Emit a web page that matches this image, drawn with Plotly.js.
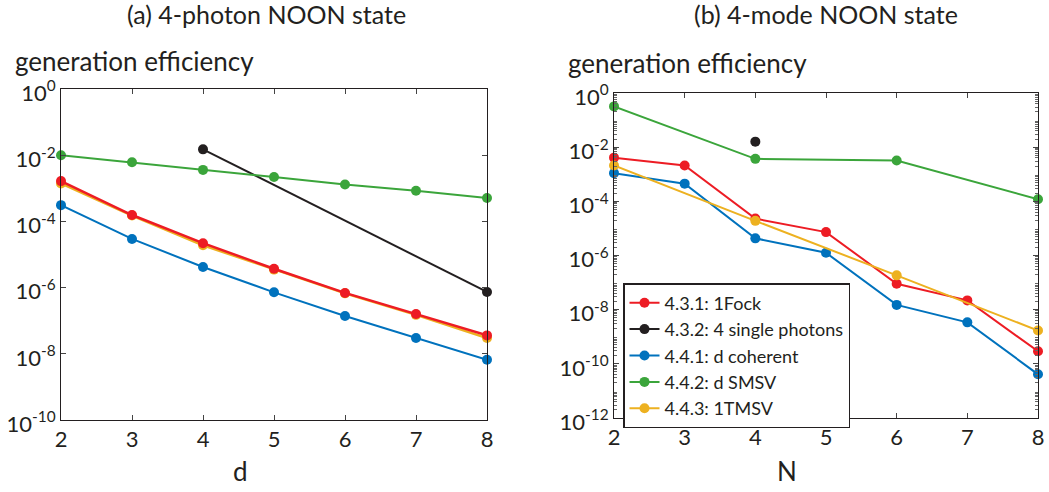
<!DOCTYPE html>
<html><head><meta charset="utf-8">
<script src="https://cdn.plot.ly/plotly-3.0.1.min.js"></script>
<style>html,body{margin:0;padding:0;background:#fff}#c{width:1049px;height:492px}</style>
</head><body><div id="c"></div>
<script>
// Panel (a): 4-photon NOON state, x = d
const dA = [2, 3, 4, 5, 6, 7, 8];
const aFock = [1.65e-3, 1.56e-4, 2.2e-5, 3.7e-6, 6.9e-7, 1.6e-7, 3.6e-8];
const aSingleX = [4, 8];
const aSingle = [1.5e-2, 7.4e-7];
const aCoherent = [3.1e-4, 2.95e-5, 4.2e-6, 7.2e-7, 1.38e-7, 3.0e-8, 6.6e-9];
const aSMSV = [1.0e-2, 6.1e-3, 3.6e-3, 2.2e-3, 1.3e-3, 8.4e-4, 5.1e-4];
const aTMSV = [1.4e-3, 1.5e-4, 1.9e-5, 3.5e-6, 6.7e-7, 1.5e-7, 3.0e-8];

// Panel (b): 4-mode NOON state, x = N
const nB = [2, 3, 4, 5, 6, 7, 8];
const bFock = [4.1e-3, 2.1e-3, 2.3e-5, 7.3e-6, 9.0e-8, 2.2e-8, 2.9e-10];
const bSingleX = [4];
const bSingle = [1.6e-2];
const bCoherent = [1.1e-3, 4.5e-4, 4.3e-6, 1.26e-6, 1.5e-8, 3.4e-9, 4.1e-11];
const bEvenX = [2, 4, 6, 8];
const bSMSV = [0.32, 3.7e-3, 3.2e-3, 1.2e-4];
const bTMSV = [2.1e-3, 1.9e-5, 1.85e-7, 1.7e-9];

const seriesNames = ['4.3.1: 1Fock', '4.3.2: 4 single photons', '4.4.1: d coherent', '4.4.2: d SMSV', '4.4.3: 1TMSV'];
const xTickVals = [2, 3, 4, 5, 6, 7, 8];
const yTickExpA = [0, -2, -4, -6, -8, -10];
const yTickExpB = [0, -2, -4, -6, -8, -10, -12];

const colors = ['#ED1C24', '#231F20', '#0072BD', '#3BA53B', '#EDB120'];
const FONT = 'Lato, "Open Sans", sans-serif';
const TXT = '#231F20';

function tr(x, y, i, xa, ya, show, w) {
  return {x: x, y: y, type: 'scatter', mode: 'lines+markers', name: seriesNames[i],
    xaxis: xa, yaxis: ya, showlegend: show, cliponaxis: false,
    line: {color: colors[i], width: w || 2}, marker: {color: colors[i], size: 10}};
}
const data = [
  tr(dA, aTMSV, 4, 'x', 'y', false, 2.5),
  tr(dA, aFock, 0, 'x', 'y', false, 2.5),
  tr(aSingleX, aSingle, 1, 'x', 'y', false),
  tr(dA, aCoherent, 2, 'x', 'y', false),
  tr(dA, aSMSV, 3, 'x', 'y', false),
  tr(nB, bFock, 0, 'x2', 'y2', true),
  tr(bSingleX, bSingle, 1, 'x2', 'y2', true),
  tr(nB, bCoherent, 2, 'x2', 'y2', true),
  tr(bEvenX, bSMSV, 3, 'x2', 'y2', true),
  tr(bEvenX, bTMSV, 4, 'x2', 'y2', true)
];

function minorVals(lo, hi) {
  const v = [];
  for (let e = lo; e < hi; e++) for (let k = 2; k <= 9; k++) v.push(k * Math.pow(10, e));
  return v;
}
const xax = (dom) => ({domain: dom, range: [2, 8], tickvals: xTickVals, ticks: 'inside', ticklen: 5,
  tickcolor: '#444', showline: true, linecolor: '#231F20', linewidth: 1, mirror: 'ticks', showgrid: false,
  zeroline: false, tickfont: {family: FONT, size: 22, color: TXT}, fixedrange: true});
const yax = (dom, exps, lo, minor) => {
  const o = {domain: dom, type: 'log', range: [lo, 0], tickvals: exps.map(e => Math.pow(10, e)),
    ticktext: exps.map(e => '10<sup>' + e + '</sup>'), ticks: 'inside', ticklen: 5, tickcolor: '#444',
    showline: true, linecolor: '#231F20', linewidth: 1, mirror: 'ticks', showgrid: false, zeroline: false,
    tickfont: {family: FONT, size: 22, color: TXT}, fixedrange: true, ticklabelshift: 4};
  if (minor) o.minor = {tickvals: minorVals(lo, 0), ticks: 'inside', ticklen: 3, tickcolor: '#666', showgrid: false};
  return o;
};

const layout = {
  width: 1049, height: 492, margin: {l: 0, r: 0, t: 0, b: 0},
  paper_bgcolor: '#fff', plot_bgcolor: '#fff', font: {family: FONT, color: TXT},
  xaxis: xax([61 / 1049, 487 / 1049]),
  yaxis: yax([72 / 492, 403 / 492], yTickExpA, -10, false),
  xaxis2: Object.assign(xax([614 / 1049, 1038 / 1049]), {anchor: 'y2'}),
  yaxis2: Object.assign(yax([74 / 492, 399 / 492], yTickExpB, -12, true), {anchor: 'x2'}),
  showlegend: true,
  legend: {x: 623 / 1049, y: (492 - 283) / 492, xanchor: 'left', yanchor: 'top',
    bgcolor: '#fff', bordercolor: '#231F20', borderwidth: 1.5,
    font: {family: FONT, size: 18, color: TXT}, tracegroupgap: 0, itemwidth: 30},
  annotations: [
    {text: '(a) 4-photon NOON state', x: 266 / 1049, y: 1 - 14 / 492, xref: 'paper', yref: 'paper', showarrow: false, xanchor: 'center', yanchor: 'middle', font: {family: FONT, size: 25, color: TXT}},
    {text: '(b) 4-mode NOON state', x: 826 / 1049, y: 1 - 14 / 492, xref: 'paper', yref: 'paper', showarrow: false, xanchor: 'center', yanchor: 'middle', font: {family: FONT, size: 25, color: TXT}},
    {text: 'generation efficiency', x: 13 / 1049, y: 1 - 61 / 492, xref: 'paper', yref: 'paper', showarrow: false, xanchor: 'left', yanchor: 'middle', font: {family: FONT, size: 26, color: TXT}},
    {text: 'generation efficiency', x: 566 / 1049, y: 1 - 63 / 492, xref: 'paper', yref: 'paper', showarrow: false, xanchor: 'left', yanchor: 'middle', font: {family: FONT, size: 26, color: TXT}},
    {text: 'd', x: 240 / 1049, y: 1 - 471 / 492, xref: 'paper', yref: 'paper', showarrow: false, xanchor: 'center', yanchor: 'middle', font: {family: FONT, size: 26, color: TXT}},
    {text: 'N', x: 787 / 1049, y: 1 - 471 / 492, xref: 'paper', yref: 'paper', showarrow: false, xanchor: 'center', yanchor: 'middle', font: {family: FONT, size: 26, color: TXT}}
  ]
};
Plotly.newPlot('c', data, layout, {displayModeBar: false, staticPlot: true});
</script></body></html>
